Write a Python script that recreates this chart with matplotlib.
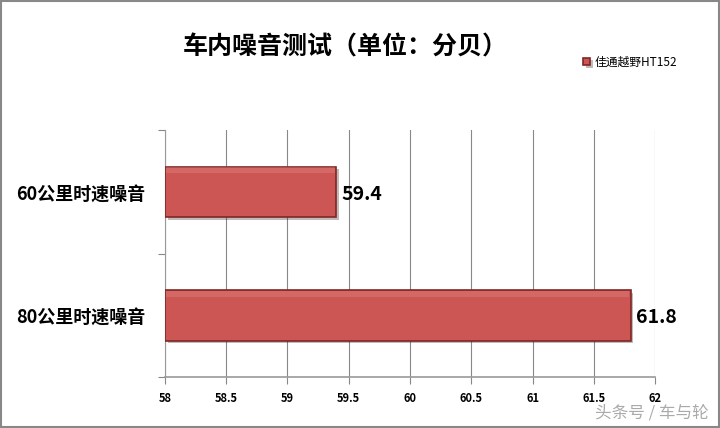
import matplotlib.pyplot as plt
from matplotlib.patches import Rectangle
import matplotlib.patheffects as pe

plt.rcParams['font.family'] = ['Noto Sans CJK SC', 'DejaVu Sans']

# Data
categories = ['60公里时速噪音', '80公里时速噪音']
values = [59.4, 61.8]
series_name = '佳通越野HT152'
xticks = [58, 58.5, 59, 59.5, 60, 60.5, 61, 61.5, 62]

fig = plt.figure(figsize=(7.2, 4.28), dpi=100)
ax = fig.add_axes([0.229, 0.119, 0.681, 0.577])

ypos = [1, 0]
bar_color = '#CB5654'
edge_color = '#7E2826'
bars = ax.barh(ypos, [v - 58 for v in values], left=58, height=0.41,
               color=bar_color, edgecolor=edge_color, linewidth=1.2, zorder=3,
               label=series_name,
               path_effects=[pe.SimplePatchShadow(offset=(2, -2), alpha=0.3),
                             pe.Normal()])
# subtle bevel highlight
for y, v in zip(ypos, values):
    ax.add_patch(Rectangle((58.01, y + 0.15), v - 58 - 0.02, 0.05,
                           facecolor='#E58A87', edgecolor='none', alpha=0.35, zorder=4))
    ax.text(v + 0.04, y - 0.02, f'{v}', fontsize=14, fontweight='bold',
            va='center', ha='left', color='black', zorder=5)

ax.set_xlim(58, 62)
ax.set_ylim(-0.5, 1.5)
ax.set_xticks(xticks)
ax.set_xticklabels([f'{t:g}' for t in xticks], fontsize=8, fontweight='bold')
ax.set_yticks([-0.5, 0.5, 1.5], minor=False)
ax.set_yticklabels([])
ax.set_yticks(ypos, minor=True)
ax.set_yticklabels(categories, minor=True, fontsize=13, fontweight='bold')
ax.tick_params(axis='y', which='minor', length=0, pad=14)
ax.tick_params(axis='y', which='major', length=5, color='#888888')
ax.tick_params(axis='x', length=5, color='#888888', pad=6)

ax.grid(axis='x', color='#888888', linewidth=0.8, zorder=0)
for s in ['top', 'right']:
    ax.spines[s].set_visible(False)
for s in ['left', 'bottom']:
    ax.spines[s].set_color('#999999')
ax.spines['bottom'].set_linewidth(1.2)

fig.text(0.48, 0.89, '车内噪音测试（单位：分贝）', fontsize=18, fontweight='bold',
         ha='center', va='center')

leg = fig.legend(loc='center left', bbox_to_anchor=(0.795, 0.855), frameon=False,
                 fontsize=8.5, handlelength=0.6, handleheight=0.6, handletextpad=0.4)

fig.text(0.985, 0.035, '头条号 / 车与轮', fontsize=12, color='#AAAAAA',
         ha='right', va='center')

# outer border
fig.patches.append(Rectangle((0.002, 0.002), 0.996, 0.996, transform=fig.transFigure,
                             fill=False, edgecolor='#888888', linewidth=1.5))

plt.savefig('out.png', dpi=100, facecolor='white')
plt.close()
